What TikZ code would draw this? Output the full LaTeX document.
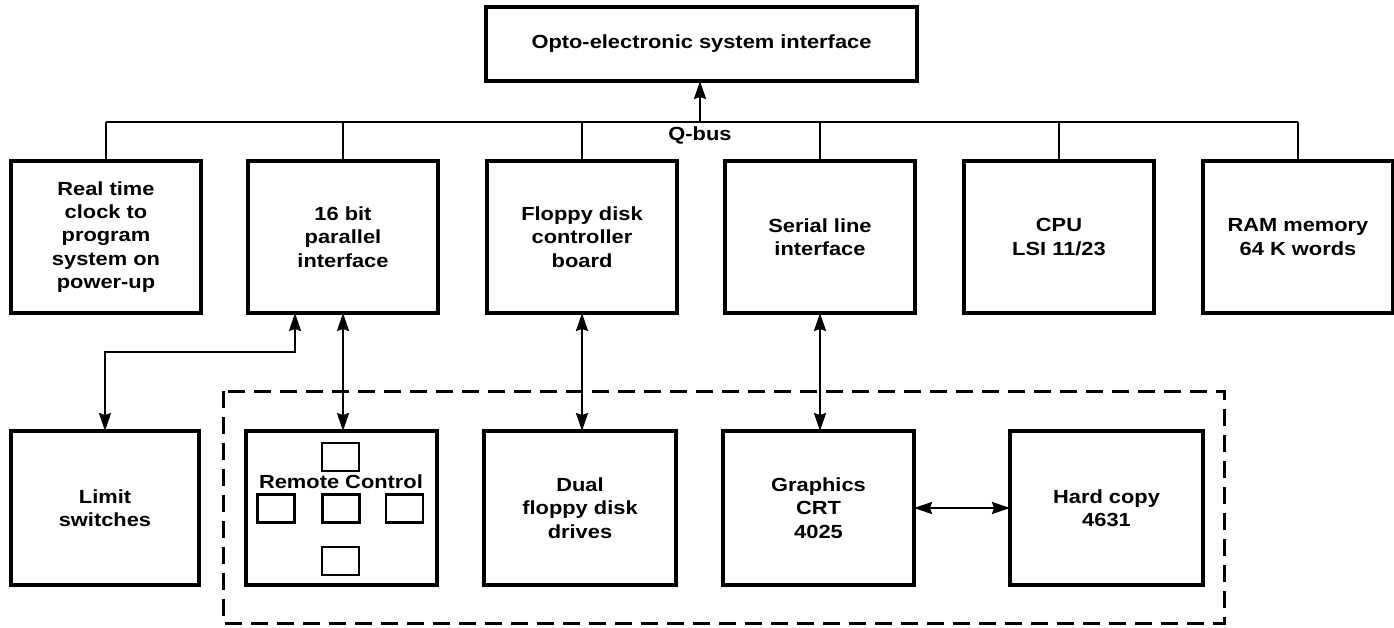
\documentclass[tikz,border=0pt]{standalone}
\usepackage{fontspec}
\setmainfont{Liberation Sans}[FakeStretch=1.15]
\usetikzlibrary{arrows.meta}
\begin{document}
\begin{tikzpicture}[x=1pt,y=-1pt,
  every node/.style={font=\fontsize{19}{23.3}\selectfont\bfseries, align=center, inner sep=0pt, outer sep=0pt},
  blk/.style={draw, line width=3.2pt, minimum width=190pt, minimum height=152pt},
  key/.style={draw, line width=2.4pt, minimum width=37pt, minimum height=28pt},
  wire/.style={line width=2.2pt},
  tip/.tip={Stealth[length=18pt,width=12pt,inset=2pt]},
  dbl/.style={line width=2.2pt, tip-tip},
  sgl/.style={line width=2.2pt, -tip},
  grp/.style={line width=3pt, dash pattern=on 17pt off 9pt}]
\useasboundingbox (0,0) rectangle (1394,627);
% top
\node[draw, line width=3.2pt, minimum width=431pt, minimum height=74pt] (top) at (701.5,44) {Opto-electronic system interface};
% row 1
\node[blk] (b1) at (106,237) {Real time\\clock to\\program\\system on\\power-up};
\node[blk] (b2) at (343,237) {16 bit\\parallel\\interface};
\node[blk] (b3) at (582,237) {Floppy disk\\controller\\board};
\node[blk] (b4) at (820,237) {Serial line\\interface};
\node[blk] (b5) at (1059,237) {CPU\\LSI 11/23};
\node[blk] (b6) at (1298,237) {RAM memory\\64 K words};
% bus
\coordinate (busL) at (106,122);
\coordinate (busR) at (1298,122);
\coordinate (busA) at (700,122);
\draw[wire] (busL) -- (busR);
\foreach \b in {b1,b2,b3,b4,b5,b6} \draw[wire] (\b.north) -- (\b.north |- busL);
\draw[sgl] (busA) -- (busA |- top.south);
\node (qbus) at (700,135) {Q-bus};
% row 2
\node[blk, minimum width=188pt, minimum height=154pt] (lim) at (105,508) {Limit\\switches};
\node[blk, minimum width=191pt, minimum height=154pt] (rc) at (341.5,508) {};
\node[blk, minimum width=192pt, minimum height=154pt] (dual) at (580,508) {Dual\\floppy disk\\drives};
\node[blk, minimum width=191pt, minimum height=154pt] (gfx) at (818.5,508) {Graphics\\CRT\\4025};
\node[blk, minimum width=193pt, minimum height=154pt] (hard) at (1106.5,508) {Hard copy\\4631};
% remote control contents
\node (rclabel) at (341,482) {Remote Control};
\node[key] (k1) at (340.5,457) {};
\node[key] (k2) at (276,508.5) {};
\node[key] (k3) at (341,508.5) {};
\node[key] (k4) at (404.5,508.5) {};
\node[key] (k5) at (340.5,561) {};
% dashed group
\draw[grp] (223,391) rectangle (1224,623);
% connectors
\coordinate (lk) at (295,352);
\draw[dbl] (b2.south -| lk) -- (lk) -| (lim.north);
\draw[dbl] (b2.south) -- (b2.south |- rc.north);
\draw[dbl] (b3.south) -- (b3.south |- dual.north);
\draw[dbl] (b4.south) -- (b4.south |- gfx.north);
\draw[dbl] (gfx.east) -- (hard.west);
\end{tikzpicture}
\end{document}
